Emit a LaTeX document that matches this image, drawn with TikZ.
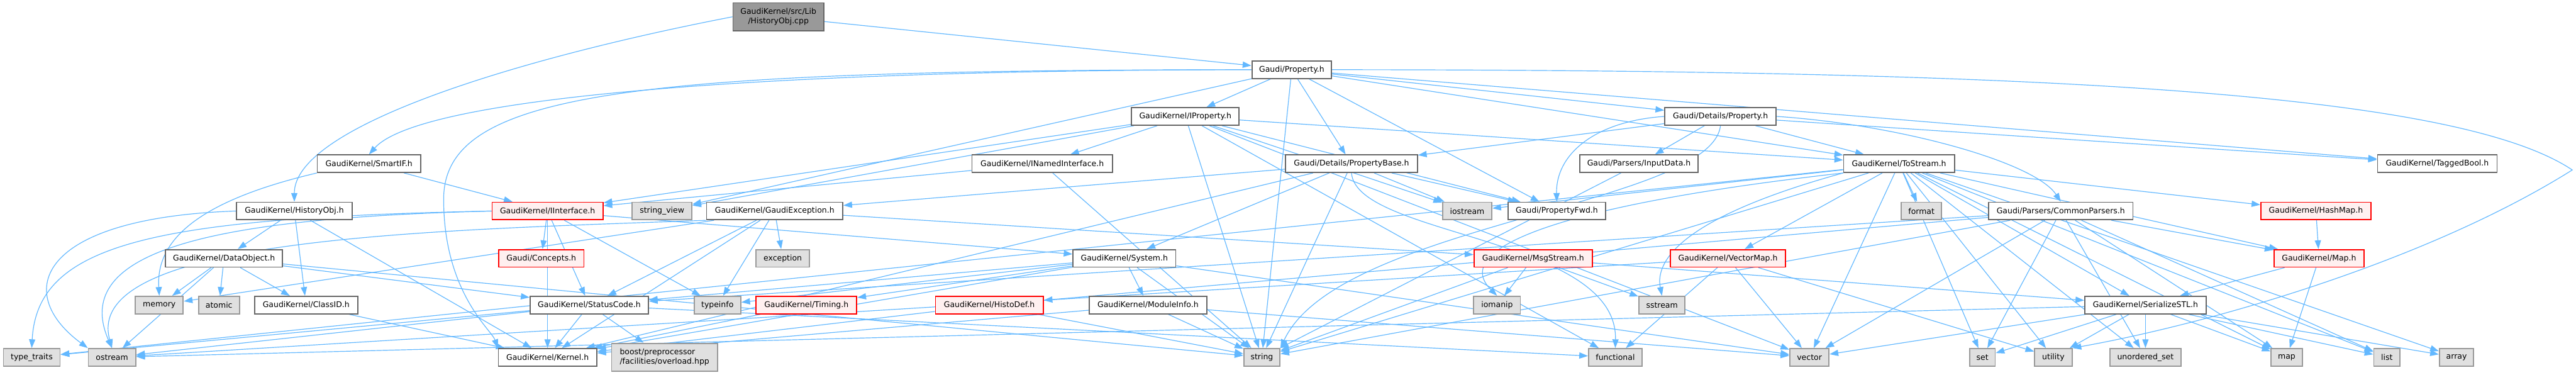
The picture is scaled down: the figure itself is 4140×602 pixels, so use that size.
\documentclass[tikz,border=0pt]{standalone}
\usepackage{fontspec}
\setmainfont{DejaVu Sans}
\usetikzlibrary{arrows.meta}
\pgfdeclarelayer{bg}
\pgfsetlayers{bg,main}
\definecolor{edgec}{HTML}{63B8FF}
\definecolor{grayfill}{HTML}{E0E0E0}
\definecolor{grayline}{HTML}{999999}
\definecolor{boxline}{HTML}{666666}
\definecolor{redfill}{HTML}{FFF0F0}
\definecolor{rootfill}{HTML}{999999}
\begin{document}
\begin{tikzpicture}[x=0.5pt,y=-0.5pt,
  nbox/.style={draw=boxline,fill=white,line width=0.9pt,minimum height=14pt,inner sep=0pt,
    font=\fontsize{6.3}{7.6}\selectfont,align=center},
  gbox/.style={nbox,draw=grayline,fill=grayfill},
  redbox/.style={nbox,draw=red,fill=redfill},
  rootbox/.style={nbox,fill=rootfill,minimum height=22.5pt},
  dep/.style={draw=edgec,line width=0.6pt,-{Triangle[length=7pt,width=5pt]}}]
\useasboundingbox (0,0) rectangle (4140,602);
% rank 0/1
\node[rootbox,minimum width=73pt] (cpp) at (1251,27) {GaudiKernel/src/Lib\\/HistoryObj.cpp};
\node[nbox,minimum width=64pt] (prop) at (2076,112) {Gaudi/Property.h};
% rank 2
\node[nbox,minimum width=86.5pt] (iprop) at (1905,187) {GaudiKernel/IProperty.h};
\node[nbox,minimum width=89.5pt] (dprop) at (2765,187) {Gaudi/Details/Property.h};
% rank 3
\node[nbox,minimum width=83pt] (smartif) at (593,263) {GaudiKernel/SmartIF.h};
\node[nbox,minimum width=113pt] (inamed) at (1675,263) {GaudiKernel/INamedInterface.h};
\node[nbox,minimum width=106pt] (pbase) at (2172,263) {Gaudi/Details/PropertyBase.h};
\node[nbox,minimum width=95pt] (input) at (2634,263) {Gaudi/Parsers/InputData.h};
\node[nbox,minimum width=89pt] (tostream) at (3052,263) {GaudiKernel/ToStream.h};
\node[nbox,minimum width=96pt] (tagged) at (3917,263) {GaudiKernel/TaggedBool.h};
% rank 4
\node[nbox,minimum width=93pt] (histobj) at (473,339) {GaudiKernel/HistoryObj.h};
\node[redbox,minimum width=89pt] (iinterface) at (880,339) {GaudiKernel/IInterface.h};
\node[gbox,minimum width=48pt] (stringview) at (1064,339) {string\_view};
\node[nbox,minimum width=109.5pt] (gexc) at (1245,339) {GaudiKernel/GaudiException.h};
\node[gbox,minimum width=39.5pt] (iostream) at (2358,339) {iostream};
\node[nbox,minimum width=78.5pt] (propfwd) at (2502,339) {Gaudi/PropertyFwd.h};
\node[gbox,minimum width=32.5pt] (format) at (3088,339) {format};
\node[nbox,minimum width=116pt] (cparsers) at (3312,339) {Gaudi/Parsers/CommonParsers.h};
\node[redbox,minimum width=88.5pt] (hashmap) at (3722,339) {GaudiKernel/HashMap.h};
% rank 5
\node[nbox,minimum width=94pt] (dataobj) at (360,415) {GaudiKernel/DataObject.h};
\node[redbox,minimum width=68.5pt] (concepts) at (870,415) {Gaudi/Concepts.h};
\node[gbox,minimum width=43pt] (exception) at (1258,415) {exception};
\node[nbox,minimum width=82.5pt] (system) at (1807,415) {GaudiKernel/System.h};
\node[redbox,minimum width=95pt] (msgstream) at (2464,415) {GaudiKernel/MsgStream.h};
\node[redbox,minimum width=92.5pt] (vectormap) at (2777,415) {GaudiKernel/VectorMap.h};
\node[redbox,minimum width=72.5pt] (maph) at (3727,415) {GaudiKernel/Map.h};
% rank 6
\node[gbox,minimum width=38.5pt] (memory) at (256,490) {memory};
\node[gbox,minimum width=33pt] (atomic) at (352,490) {atomic};
\node[nbox,minimum width=83pt] (classid) at (492,490) {GaudiKernel/ClassID.h};
\node[nbox,minimum width=95pt] (statuscode) at (947,490) {GaudiKernel/StatusCode.h};
\node[gbox,minimum width=37.5pt] (typeinfo) at (1153,490) {typeinfo};
\node[redbox,minimum width=81pt] (timing) at (1296,490) {GaudiKernel/Timing.h};
\node[redbox,minimum width=86.5pt] (histodef) at (1590,490) {GaudiKernel/HistoDef.h};
\node[nbox,minimum width=94.5pt] (moduleinfo) at (1845,490) {GaudiKernel/ModuleInfo.h};
\node[gbox,minimum width=37.5pt] (iomanip) at (2406,490) {iomanip};
\node[gbox,minimum width=37pt] (sstream) at (2671,490) {sstream};
\node[nbox,minimum width=97.5pt] (serialize) at (3448,490) {GaudiKernel/SerializeSTL.h};
% rank 7
\node[gbox,minimum width=45.5pt] (typetraits) at (51,574) {type\_traits};
\node[gbox,minimum width=38pt] (ostream) at (180,574) {ostream};
\node[nbox,minimum width=79pt] (kernel) at (880,574) {GaudiKernel/Kernel.h};
\node[gbox,minimum width=85pt,minimum height=22.5pt,align=left] (boost) at (1068,574) {boost/preprocessor\\/facilities/overload.hpp};
\node[gbox,minimum width=29pt] (string) at (2028,574) {string};
\node[gbox,minimum width=43pt] (functional) at (2596,574) {functional};
\node[gbox,minimum width=31.5pt] (vector) at (2908,574) {vector};
\node[gbox,minimum width=20.5pt] (set) at (3186,574) {set};
\node[gbox,minimum width=30pt] (utility) at (3300,574) {utility};
\node[gbox,minimum width=57pt] (uset) at (3448,574) {unordered\_set};
\node[gbox,minimum width=25pt] (map) at (3675,574) {map};
\node[gbox,minimum width=21pt] (list) at (3836,574) {list};
\node[gbox,minimum width=27.5pt] (array) at (3948,574) {array};

\begin{pgfonlayer}{bg}
\foreach \a/\b in {
cpp/prop,
prop/stringview, prop/string, prop/iprop, prop/pbase, prop/tostream, prop/propfwd, prop/dprop, prop/tagged,
histobj/dataobj, histobj/classid, histobj/kernel,
smartif/iinterface,
dataobj/ostream, dataobj/memory, dataobj/atomic, dataobj/classid, dataobj/statuscode, dataobj/string,
classid/kernel,
iinterface/concepts, iinterface/kernel, iinterface/statuscode, iinterface/system, iinterface/typeinfo,
gexc/kernel, gexc/statuscode, gexc/exception, gexc/typeinfo, gexc/memory, gexc/msgstream,
statuscode/boost, statuscode/kernel, statuscode/functional, statuscode/ostream, statuscode/typetraits,
system/kernel, system/moduleinfo, system/timing, system/statuscode, system/typeinfo, system/string, system/vector,
timing/kernel,
histodef/kernel, histodef/string,
moduleinfo/kernel, moduleinfo/string, moduleinfo/vector,
inamed/iinterface, inamed/string,
iprop/iinterface, iprop/inamed, iprop/propfwd, iprop/tostream, iprop/functional, iprop/iostream, iprop/string, iprop/stringview, iprop/vector,
dprop/pbase, dprop/input, dprop/tostream, dprop/tagged,
input/string,
pbase/gexc, pbase/kernel, pbase/system, pbase/string, pbase/iostream, pbase/propfwd,
tostream/format, tostream/vectormap, tostream/iostream, tostream/string, tostream/vector, tostream/set, tostream/hashmap, tostream/maph, tostream/serialize, tostream/list, tostream/map, tostream/array, tostream/uset, tostream/utility, tostream/typetraits,
cparsers/maph, cparsers/histodef, cparsers/statuscode, cparsers/string, cparsers/vector, cparsers/set, cparsers/uset, cparsers/map, cparsers/list,
hashmap/maph,
maph/map, maph/serialize,
serialize/ostream, serialize/vector, serialize/set, serialize/utility, serialize/uset, serialize/map, serialize/list, serialize/array,
vectormap/vector, vectormap/functional, vectormap/utility, vectormap/ostream,
msgstream/iomanip, msgstream/sstream, msgstream/string, msgstream/serialize}
  \draw[dep] (\a) -- (\b);
% curved connectors
\draw[dep] (cpp.west) .. controls (850,90) and (473,200) .. (histobj.north);
\draw[dep] (prop.west) .. controls (1300,112) and (680,150) .. (smartif.north);
\draw[dep] (prop.west) .. controls (1000,112) and (713,150) .. (713,320) .. controls (713,470) and (790,530) .. (kernel.north west);
\draw[dep] (prop.east) .. controls (3300,112) and (3950,150) .. (4134,273) .. controls (3900,420) and (3550,520) .. (utility.north east);
\draw[dep] (histobj.west) .. controls (60,350) and (20,470) .. (ostream.north west);
\draw[dep] (smartif.south west) .. controls (330,320) and (250,380) .. (memory.north);
\draw[dep] (iinterface.west) .. controls (250,350) and (60,390) .. (typetraits.north);
\draw[dep] (iinterface.west) .. controls (350,350) and (110,400) .. (ostream.north);
\draw[dep] (gexc.south west) .. controls (700,370) and (130,380) .. (ostream.north);
\draw[dep] (dprop.west) .. controls (2560,195) and (2500,250) .. (propfwd.north);
\draw[dep] (dprop.south) .. controls (2750,330) and (2150,360) .. (string.north east);
\draw[dep] (dprop.east) .. controls (3050,200) and (3270,260) .. (cparsers.north);
\draw[dep] (tostream.south west) .. controls (2500,330) and (2330,400) .. (iomanip.north);
\draw[dep] (tostream.south west) .. controls (2700,350) and (2660,420) .. (sstream.north);
\draw[dep] (pbase.south) .. controls (2180,380) and (2600,380) .. (functional.north);
\end{pgfonlayer}
\end{tikzpicture}
\end{document}
